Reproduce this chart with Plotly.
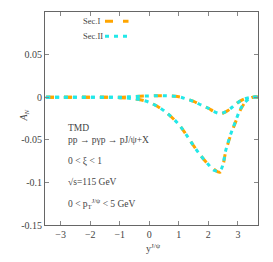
import plotly.graph_objects as go

# Data
y_rap = [-3.5, -3.0, -2.5, -2.0, -1.5, -1.0, -0.5, 0.0, 0.5, 1.0, 1.25, 1.5, 1.75, 2.0, 2.2, 2.4, 2.6, 2.75, 2.9, 3.1, 3.3, 3.5, 3.7]

sec1_small = [0.0, 0.0, 0.0, 0.0, 0.0, 0.0, 0.0008, 0.0015, 0.0018, 0.0005, -0.002, -0.005, -0.009, -0.013, -0.017, -0.0195, -0.017, -0.0135, -0.009, -0.004, -0.0012, 0.0, 0.0]
sec1_large = [0.0, 0.0, 0.0, 0.0, 0.0, -0.0005, -0.002, -0.006, -0.016, -0.032, -0.044, -0.057, -0.069, -0.079, -0.085, -0.088, -0.062, -0.045, -0.031, -0.014, -0.004, 0.0, 0.0]

sec2_small = [0.0, 0.0, 0.0, 0.0, 0.0, 0.0, 0.0008, 0.0015, 0.0018, 0.0005, -0.002, -0.005, -0.009, -0.013, -0.017, -0.0192, -0.0168, -0.0133, -0.009, -0.004, -0.0012, 0.0, 0.0]
sec2_large = [0.0, 0.0, 0.0, 0.0, 0.0, -0.0005, -0.002, -0.006, -0.016, -0.032, -0.044, -0.057, -0.069, -0.079, -0.086, -0.086, -0.061, -0.044, -0.030, -0.013, -0.004, 0.0, 0.0]

x_ticks = [-3, -2, -1, 0, 1, 2, 3]
x_ticklabels = ["\u22123", "\u22122", "\u22121", "0", "1", "2", "3"]
y_ticks = [0.1, 0.05, 0, -0.05, -0.1, -0.15]
y_ticklabels = ["0.1", "0.05", "0", "-0.05", "-0.1", "-0.15"]

ORANGE = "#ffa500"
CYAN = "#22e8e8"
FONT = "Liberation Serif"
TXT = "#444"

fig = go.Figure()
for ys in (sec1_small, sec1_large):
    fig.add_trace(go.Scatter(x=y_rap, y=ys, mode="lines", line=dict(color=ORANGE, width=3, dash="8px,10px"),
                             showlegend=False, line_shape="spline"))
for ys in (sec2_small, sec2_large):
    fig.add_trace(go.Scatter(x=y_rap, y=ys, mode="lines", line=dict(color=CYAN, width=3, dash="4px,5px"),
                             showlegend=False, line_shape="spline"))

axis_common = dict(showline=True, linecolor="#666", linewidth=1, mirror="ticks", ticks="inside",
                   ticklen=4, tickcolor="#888", showgrid=False, zeroline=False,
                   tickfont=dict(family=FONT, size=10, color=TXT))
fig.update_xaxes(range=[-3.53, 3.68], tickvals=x_ticks, ticktext=x_ticklabels, **axis_common)
fig.update_yaxes(range=[-0.15, 0.1], tickvals=y_ticks, ticktext=y_ticklabels, **axis_common)

# page body has an 8px margin; compensate so the plot lands where the reference has it
OFF = 8
W, H = 273, 262
L, R, T, B = 45 - OFF, 15 + OFF, 12 - OFF, 37 + OFF
pw, ph = W - L - R, H - T - B

def px(x):
    return (x - OFF - L) / pw

def py(y):
    return (H - B - (y - OFF)) / ph

anns = [
    ("TMD", 128.3),
    ("pp \u2192 p\u03b3p \u2192 pJ/\u03c8+X", 140),
    ("0 &lt; \u03be &lt; 1", 161),
    ("\u221As=115 GeV", 181.7),
    ("0 &lt; p<sub>T</sub><sup>J/\u03c8</sup> &lt; 5 GeV", 203.3),
]
for txt, yy in anns:
    fig.add_annotation(x=px(66), y=py(yy), xref="paper", yref="paper", text=txt, showarrow=False,
                       xanchor="left", yanchor="middle", font=dict(family=FONT, size=9.5, color=TXT))

# legend
for label, yy, col, dash in (("Sec.I", 21.3, ORANGE, "8px,10px"), ("Sec.II", 36.3, CYAN, "4px,5px")):
    fig.add_annotation(x=px(81), y=py(yy), xref="paper", yref="paper", text=label, showarrow=False,
                       xanchor="left", yanchor="middle", font=dict(family=FONT, size=8.5, color=TXT))
    fig.add_shape(type="line", xref="paper", yref="paper", x0=px(105), x1=px(128.5), y0=py(yy), y1=py(yy),
                  line=dict(color=col, width=3, dash=dash))

fig.add_annotation(x=px(15), y=py(116), xref="paper", yref="paper", text="<i>A</i><sub><i>N</i></sub>",
                   showarrow=False, textangle=-90, font=dict(family=FONT, size=10, color=TXT))
fig.add_annotation(x=px(153), y=py(256), xref="paper", yref="paper", text="y<sup>J/\u03c8</sup>",
                   showarrow=False, font=dict(family=FONT, size=10, color=TXT))

fig.update_layout(width=W, height=H, margin=dict(l=L, r=R, t=T, b=B), plot_bgcolor="white",
                  paper_bgcolor="white", showlegend=False)
fig.write_html("out.html")
